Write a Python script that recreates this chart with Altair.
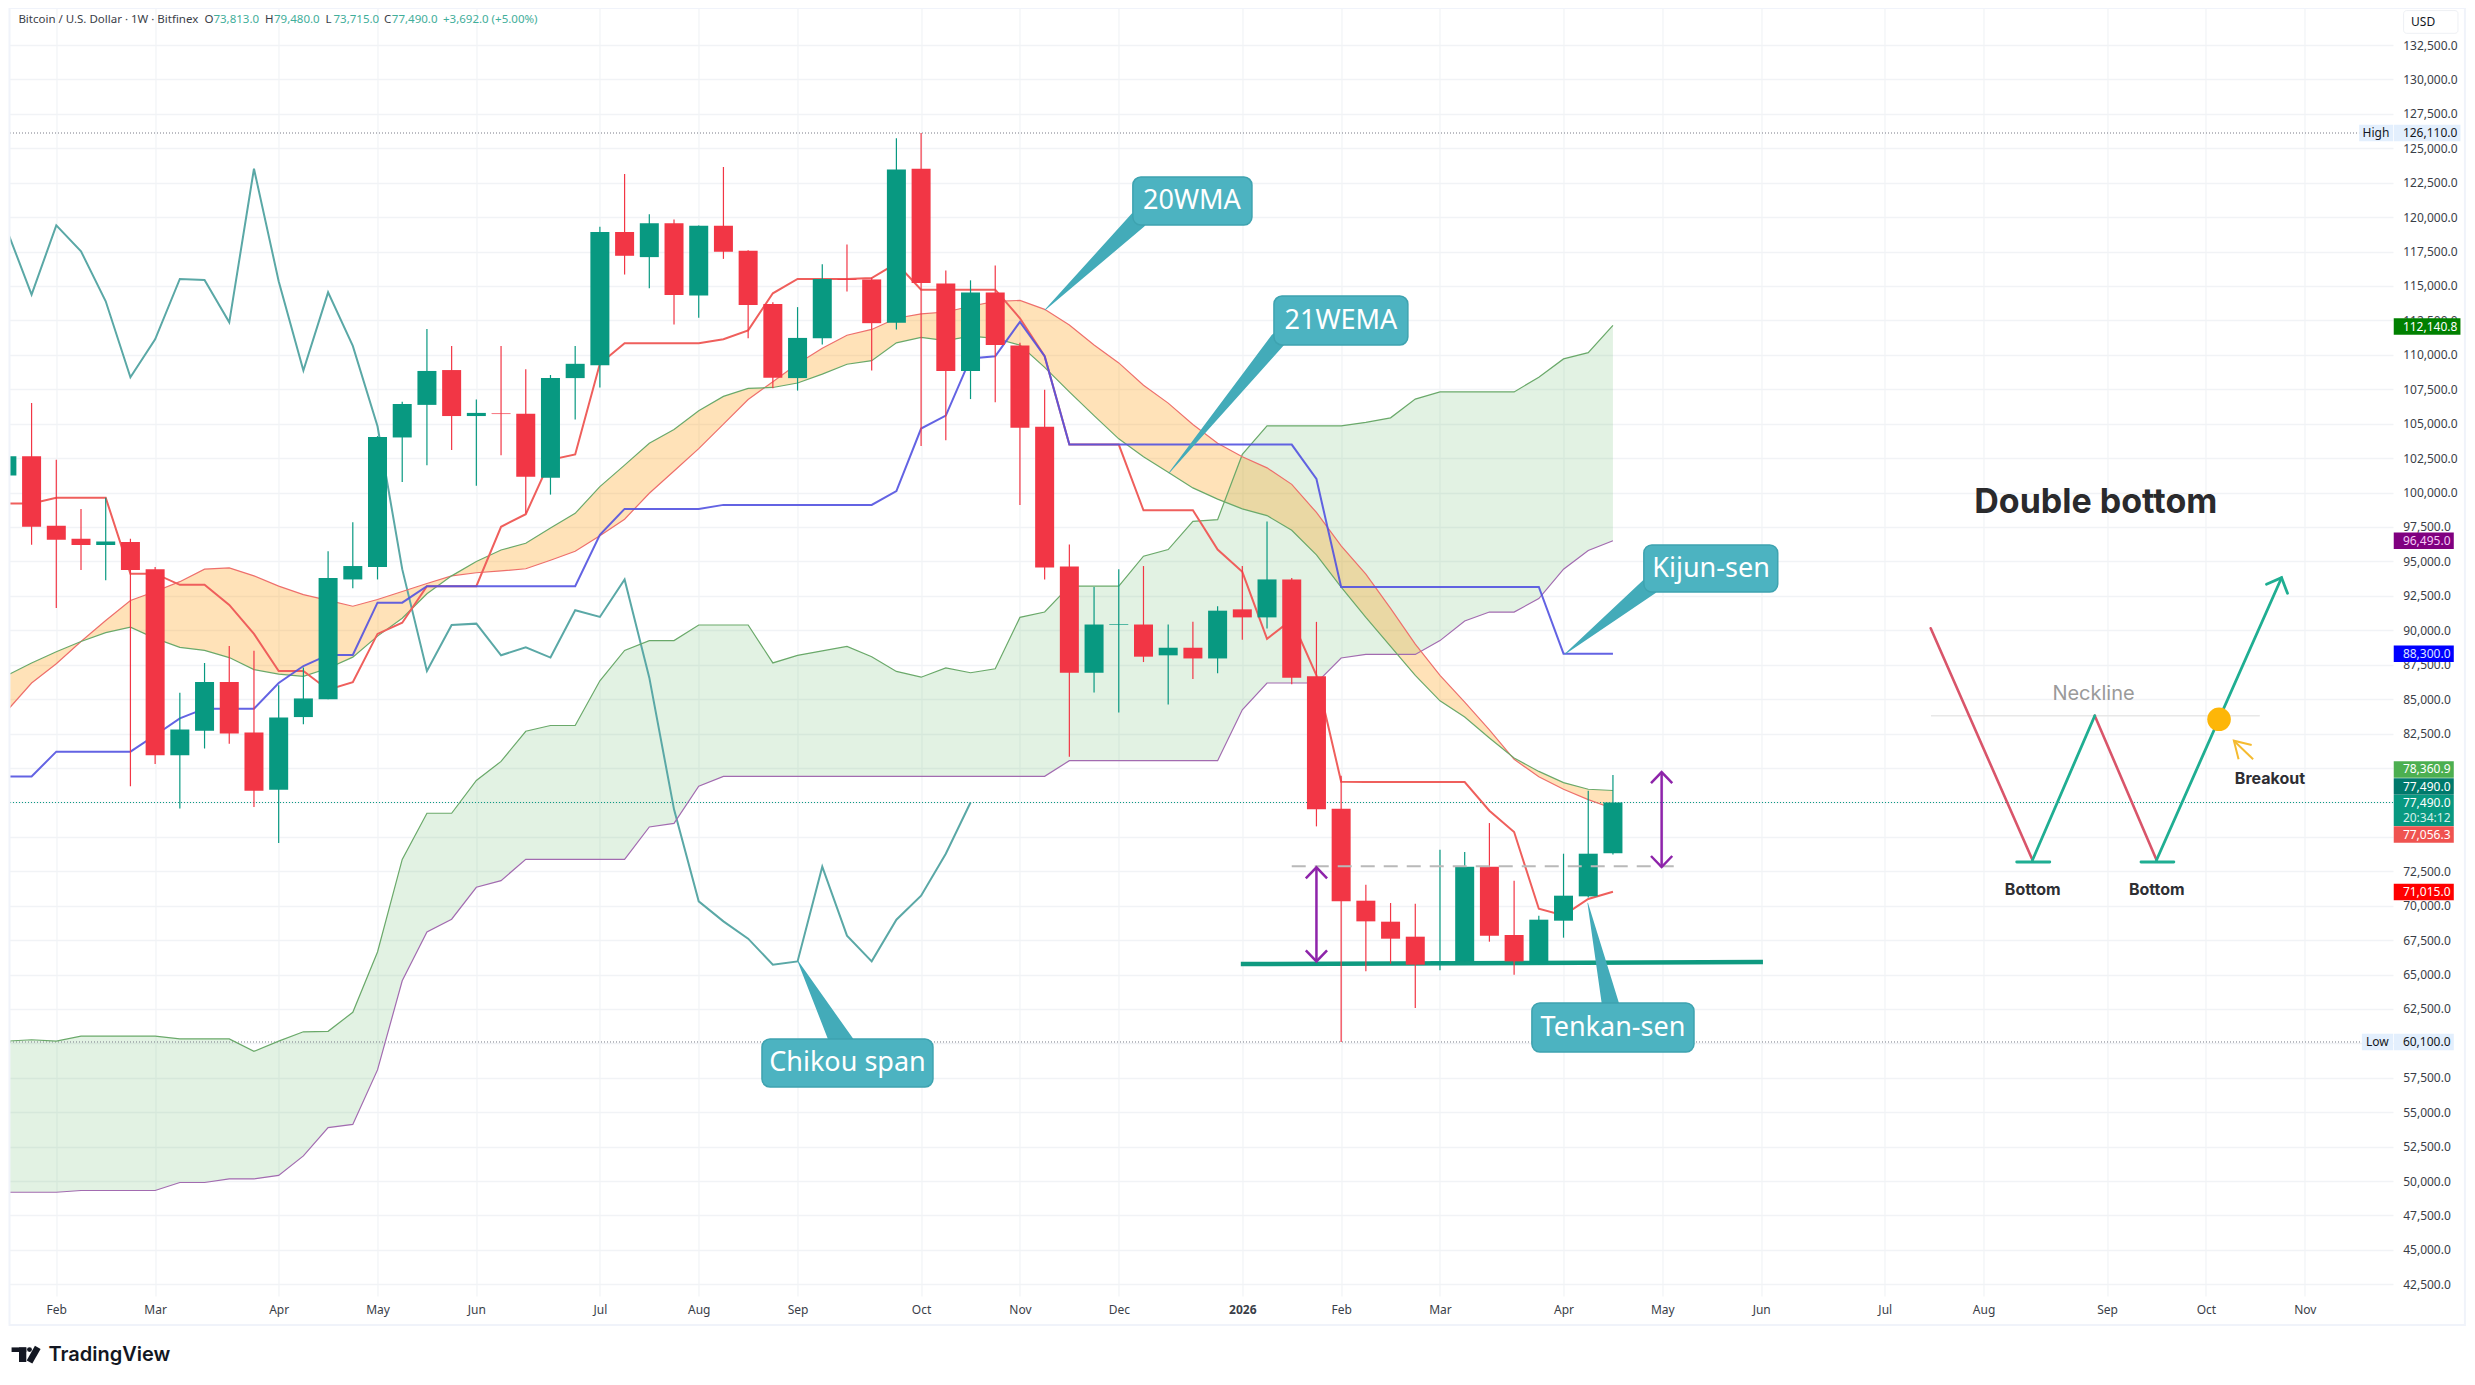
import altair as alt
import pandas as pd

# ---------- candles, first week = -1 ----------
opens = [101243,102638,97580,96640,96186,96413,94436,80927,82697,86233,82569,78416,83695,84983,93690,94598,104000,106366,108895,105556,105750,105718,101082,108311,109252,118913,117097,119561,114309,119367,117551,113693,108311,111197,115509,115476,112331,123516,115184,108830,114536,110678,104778,94630,86914,90400,90416,88179,88730,87952,91517,90934,93690,86655,77040,70361,68836,67747,65800,65956,72829,67868,65787,68909,70675,73813]
highs = [103000,106496,102378,98812,99623,96640,94598,85455,87627,88859,88503,86006,87303,95732,97840,104100,106593,111878,110646,106755,110646,108960,108538,110646,119302,123127,120210,119821,119400,123646,117600,113823,113466,116579,118005,115600,125721,126110,116125,115411,116481,110873,107468,96219,93139,94436,94663,90416,90610,91745,94663,97905,93800,90610,79436,71522,70191,70143,74063,73894,75999,71813,69272,73773,78347,79480]
lows = [101000,96218,91615,94371,93625,78674,80283,77064,81410,81764,77161,74553,83180,84983,93042,93690,100758,101990,103092,100498,102703,98488,99850,105296,107631,115833,114828,112202,112688,116968,111197,107566,107404,110743,114601,108863,111845,103384,103805,106788,106561,99104,93690,80819,85488,84029,87692,84612,86461,86882,89313,90124,86071,75757,60100,65230,65787,62568,65303,65900,67384,64988,65700,67675,70600,73715]
closes = [102638,97516,96575,96186,96446,94371,80927,82794,86233,82504,78352,83663,85047,93787,94663,104032,106431,108830,105556,105783,105700,101147,108311,109349,118913,117194,119561,114342,119367,117486,113628,108344,111229,115509,115450,112299,123452,115217,108830,114536,110711,104713,94565,86914,90416,90448,88081,88730,87952,91421,90934,93690,86558,76992,70312,68860,67602,65714,65950,72829,67820,65956,68981,70724,73773,77490]

# ---------- indicator lines, first week = -1 ----------
tenkan = [99201,99201,99623,99623,99623,94111,94111,93301,93301,91842,89735,87044,87044,85682,86233,89735,90545,93204,93204,93204,97516,98423,102379,102768,109349,110840,110840,110840,110840,111132,111780,114471,115509,115509,115509,115573,116643,114731,114731,114731,114731,112656,109900,103481,103481,103481,98715,98715,98715,95862,94241,89378,90772,86720,79004,78976,78976,78976,78976,78976,76895,75346,69780,69296,70482,71015]
kijun = [79382,79382,81184,81184,81184,81184,82375,83599,84307,84307,84307,86169,87401,88211,88211,92004,92004,93204,93204,93204,93204,93204,93204,93204,96932,98812,98812,98812,98812,99104,99104,99104,99104,99104,99104,99104,100109,104648,105588,109738,109900,112396,109900,103481,103481,103481,103481,103481,103481,103481,103481,103481,103481,100984,93139,93139,93139,93139,93139,93139,93139,93139,93139,88300,88300,88300]
chikou = [119075,114374,119399,117519,113888,108376,111132,115509,115444,112364,123516,115347,108863,114536,110646,104810,94436,87044,90383,90480,88179,88762,88016,91453,90967,93690,86558,76992,70312,68860,67602,65714,65950,72829,67820,65956,68981,70724,73773,77490]
span_a = [60164,60261,60164,60518,60518,60518,60518,60325,60325,60325,59424,60164,60840,60873,62257,66635,73362,76710,76710,79092,80476,82665,83084,83084,86331,88535,89248,89248,90383,90383,90383,87627,88179,88503,88827,88081,87011,86590,87271,86914,87206,90934,91323,93204,93204,93204,95376,95862,97905,98034,102768,104842,104842,104842,104842,105102,105426,106788,107306,107306,107306,107306,108376,109705,110159,112140.8]
span_b = [49188,49188,49188,49316,49316,49316,49316,49896,49896,50153,50153,50411,51827,53887,54113,58072,64542,68083,69017,71334,71817,73362,73362,73362,73362,73362,75712,75970,78674,79382,79382,79382,79382,79382,79382,79382,79382,79382,79382,79382,79382,79382,79393,80528,80528,80528,80528,80528,80528,80528,84224,86169,86169,86169,87984,88243,88243,88243,89248,90675,91323,91323,92296,94436,95797,96495]
wma20 = [84146,86169,87563,89184,90707,92166,92815,93528,94436,94533,93949,93204,92588,92166,91745,92231,92815,93398,93949,94176,94306,94468,95084,95732,96867,98067,99947,101568,103189,104972,106755,108052,109349,110484,111424,111845,112656,112980,113110,113531,113888,113952,113304,112169,110710,109414,107793,106496,104940,103578,102605,101795,100595,98553,96121,94079,91583,88989,86720,84774,82764,80625,79360,78453,77700,77056.3]
ema21 = [86720,87627,88438,89184,89832,90221,89411,88762,88535,88016,87141,86817,86655,87239,88049,89573,90869,92653,93949,94987,95830,96316,97418,98488,100433,101990,103578,104583,105945,106982,107566,107631,107955,108603,109316,109576,110873,111262,111035,111359,111197,110710,109089,107306,105588,103902,102605,101471,100336,99526,98812,98326,97256,95473,93139,90934,88827,86720,84872,83705,82181,80722,79749,78939,78453,78360.9]

# ---------- axes ----------
price_ticks = list(range(42500, 135000, 2500))
covered_ticks = [60000, 75000, 77500, 80000]
month_weeks = [1, 5, 10, 14, 18, 23, 27, 31, 36, 40, 44, 49, 53, 57, 62, 66, 70, 75, 79, 84, 88, 92]
month_names = ["Feb", "Mar", "Apr", "May", "Jun", "Jul", "Aug", "Sep", "Oct", "Nov", "Dec", "2026", "Feb", "Mar", "Apr", "May", "Jun", "Jul", "Aug", "Sep", "Oct", "Nov"]

# ---------- scale limits ----------
week_domain = [-0.894, 95.57]
price_domain = [41653, 135188]

FONT = "Noto Sans"
UP, DOWN = "#089981", "#f23645"
GRID = "#f1f3f6"
TAG = 12

AX = alt.Axis(
    orient="bottom", values=month_weeks, title=None, grid=True, gridColor=GRID, gridWidth=1.2, domain=False, ticks=False,
    labelExpr="[" + ",".join(f"'{m}'" for m in month_names) + "][indexof([" + ",".join(map(str, month_weeks)) + "], datum.value)]",
    labelFont=FONT, labelFontSize=12, labelColor="#3a3e48", labelPadding=8, labelOverlap=False,
    labelFontWeight={"condition": {"test": "datum.value == 49", "value": 700}, "value": 400},
)
AY = alt.Axis(
    orient="right", values=price_ticks, title=None, grid=True, gridColor=GRID, gridWidth=1.5, domain=False, ticks=False,
    labelExpr="indexof([" + ",".join(map(str, covered_ticks)) + "], datum.value) >= 0 ? '' : format(datum.value, ',.1f')",
    labelFont=FONT, labelFontSize=TAG, labelColor="#3a3e48", labelPadding=9.7, labelOverlap=False,
)
XS = alt.Scale(domain=week_domain, nice=False, zero=False, padding=0)
YS = alt.Scale(domain=price_domain, nice=False, zero=False)


def X():
    return alt.X("w:Q", scale=XS, axis=AX)


def Y(field="p:Q"):
    return alt.Y(field, scale=YS, axis=AY)


def series(values):
    return pd.DataFrame({"w": range(-1, len(values) - 1), "p": values})


def line(values, color, width, opacity=1.0):
    return alt.Chart(series(values)).mark_line(color=color, strokeWidth=width, opacity=opacity, clip=True).encode(X(), Y())


def band(upper, lower, color, opacity):
    df = pd.DataFrame({"w": range(-1, len(upper) - 1), "p": upper, "p2": lower})
    return alt.Chart(df).mark_area(color=color, opacity=opacity, clip=True).encode(X(), Y(), y2="p2:Q")


def path(points, color, width, dash=None, cap="butt", opacity=1.0):
    rows = [{"w": a, "p": b, "g": g, "o": i} for g, pts in enumerate(points) for i, (a, b) in enumerate(pts)]
    kw = {"strokeDash": dash} if dash else {}
    return alt.Chart(pd.DataFrame(rows)).mark_line(color=color, strokeWidth=width, strokeCap=cap, opacity=opacity, **kw).encode(
        X(), Y(), detail="g:N", order="o:Q")


def label(text, w, p, size, color, weight=400, align="center", font=FONT):
    return alt.Chart(pd.DataFrame({"w": [w], "p": [p], "t": [text]})).mark_text(
        font=font, fontSize=size, color=color, fontWeight=weight, align=align, baseline="middle"
    ).encode(X(), Y(), text="t:N")


def box(w1, w2, p1, p2, color, **kw):
    return alt.Chart(pd.DataFrame({"w": [w1], "w2": [w2], "p": [p1], "p2": [p2]})).mark_rect(color=color, **kw).encode(
        X(), Y(), x2="w2:Q", y2="p2:Q")


def callout(text, w1, w2, p1, p2, tw, tp, tip, base, base_size, size=27):
    rows = [{"w": tip[0], "p": tip[1], "s": 0.6, "o": 0}, {"w": base[0], "p": base[1], "s": base_size, "o": 1}]
    pointer = alt.Chart(pd.DataFrame(rows)).mark_trail(color="#43abb9").encode(
        X(), Y(), size=alt.Size("s:Q", scale=None, legend=None), order="o:Q")
    rect = box(w1, w2, p1, p2, "#4cb3c1", cornerRadius=8, stroke="#3ea3b0", strokeWidth=1.5)
    return [pointer, rect, label(text, tw, tp, size, "#ffffff")]


# ---------- candles ----------
cdf = pd.DataFrame({"w": range(-1, len(opens) - 1), "o": opens, "h": highs, "l": lows, "c": closes})
cdf["up"] = cdf.c >= cdf.o
color = alt.Color("up:N", scale=alt.Scale(domain=[True, False], range=[UP, DOWN]), legend=None)
wicks = alt.Chart(cdf).mark_rule(strokeWidth=1.2, clip=True).encode(X(), Y("h:Q"), y2="l:Q", color=color)
bodies = alt.Chart(cdf).mark_bar(size=19, clip=True).encode(X(), Y("o:Q"), y2="c:Q", color=color)


def hline(price, col):
    return alt.Chart(pd.DataFrame({"p": [price]})).mark_rule(color=col, strokeWidth=1, strokeDash=[1, 2]).encode(Y())


layers = [
    band(span_a, span_b, "#4caf50", 0.16),
    band(wma20, ema21, "#ff9800", 0.28),
    hline(126110, "#787b86"), hline(60100, "#787b86"), hline(77490, UP),
    line(chikou, "#5aa8a6", 2),
    line(span_a, "#6aa96a", 1.2),
    line(span_b, "#a26bb0", 1.2),
    line(wma20, "#ee6f6c", 1.2),
    line(ema21, "#6aa96a", 1.2),
    line(tenkan, "#ef5f5c", 2),
    line(kijun, "#5252e0", 2, 0.9),
    path([[(48.94, 65761), (70.07, 65906)]], "#0f9a80", 4.5),
    wicks, bodies,
    path([[(51.0, 72853), (66.55, 72853)]], "#b9b9b9", 2, dash=[14, 9]),
    path([
        [(52, 72781), (52, 65956)],
        [(51.57, 71980), (52, 72781), (52.43, 71980)],
        [(51.57, 66757), (52, 65956), (52.43, 66757)],
        [(65.97, 79702), (65.97, 72805)],
        [(65.54, 78900), (65.97, 79702), (66.4, 78900)],
        [(65.54, 73606), (65.97, 72805), (66.4, 73606)],
    ], "#8e24aa", 2.5),
]

# ---------- callouts ----------
layers += callout("20WMA", 44.57, 49.39, 122915, 119429, 46.96, 121172, (41.01, 113256), (44.78, 119792), 18)
layers += callout("21WEMA", 50.28, 55.70, 114273, 110715, 52.99, 112494, (46.03, 101419), (50.44, 111078), 16)
layers += callout("Kijun-sen", 65.25, 70.67, 96191, 92777, 67.97, 94484, (62.06, 88275), (65.5, 93213), 18)
layers += callout("Chikou span", 29.56, 36.48, 60316, 56831, 33.02, 58573, (31.01, 65981), (32.84, 59881), 24)
layers += callout("Tenkan-sen", 60.72, 67.28, 62931, 59372, 64.0, 61151, (62.98, 70193), (63.95, 62422), 18)

# ---------- double-bottom sketch ----------
layers += [
    path([[(76.87, 83794), (90.18, 83794)]], "#e8e8e8", 1.5),
    path([[(76.86, 90141), (80.98, 73315)], [(83.50, 83794), (86.00, 73315)]], "#d9556a", 2.6, cap="round"),
    path([[(80.98, 73315), (83.50, 83794)], [(86.00, 73315), (91.06, 93816)], [(90.45, 93337), (91.06, 93816), (91.30, 92683)],
          [(80.34, 73170), (81.68, 73170)], [(85.37, 73170), (86.70, 73170)]], "#1fae92", 2.8, cap="round"),
    alt.Chart(pd.DataFrame({"w": [88.53], "p": [83533]})).mark_point(filled=True, size=556, color="#fdb608", opacity=1).encode(X(), Y()),
    path([[(89.13, 81979), (89.91, 80628)], [(89.85, 81667), (89.13, 81979), (89.32, 80628)]], "#f5bb30", 2),
    label("Double bottom", 83.54, 99235, 34, "#2a2a2c", 700, font="Inter"),
    label("Neckline", 83.45, 85350, 20, "#9a9a9a", 400, font="Inter"),
    label("Breakout", 90.59, 79198, 16, "#2e2e33", 700, font="Inter"),
    label("Bottom", 80.99, 71137, 16, "#2e2e33", 700, font="Inter"),
    label("Bottom", 86.01, 71137, 16, "#2e2e33", 700, font="Inter"),
]

# ---------- price tags on the right ----------
W_L, W_R, W_R2 = 95.6, 98.03, 98.30
tags = [
    ("126,110.0", 126110, W_R2, "#e3effd", "#131722"),
    ("112,140.8", 112058, W_R2, "#008000", "#ffffff"),
    ("96,495.0", 96495, W_R, "#800080", "#f6c8f6"),
    ("88,300.0", 88300, W_R, "#0000ff", "#dfe3ff"),
    ("78,360.9", 79888, W_R, "#4caf50", "#ffffff"),
    ("77,490.0", 78653, W_R, "#00796b", "#ffffff"),
    ("77,056.3", 75167, W_R, "#ef5350", "#ffffff"),
    ("71,015.0", 70992, W_R, "#ff0000", "#ffffff"),
    ("60,100.0", 60100, W_R, "#e3effd", "#131722"),
]
for text, price, right, fill, ink in tags:
    layers.append(box(W_L, right, price + 600, price - 600, fill))
    layers.append(label(text, 95.97, price, TAG, ink, align="left"))
layers += [
    box(W_L, W_R, 78035, 75785, UP),
    label("77,490.0", 95.97, 77455, TAG, "#ffffff", align="left"),
    label("20:34:12", 95.97, 76366, TAG, "#d5f0ea", align="left"),
    box(94.2, 95.57, 126710, 125510, "#e3effd"),
    label("High", 94.88, 126110, TAG, "#131722"),
    box(94.31, 95.57, 60700, 59500, "#e3effd"),
    label("Low", 94.94, 60100, TAG, "#131722"),
    box(96.0, 98.2, 135000, 133350, "#ffffff", cornerRadius=3, stroke="#eef0f4"),
    label("USD", 96.3, 134200, TAG, "#131722", align="left"),
]

# ---------- header ----------
HDR = 134316
HDR_GREEN = "#3fae9a"
layers += [
    label("Bitcoin / U.S. Dollar · 1W · Bitfinex", -0.534, HDR, 11.5, "#3a3e48", align="left"),
    label("O", 7.0, HDR, 11.5, "#3a3e48", align="left"), label("73,813.0", 7.36, HDR, 11.5, HDR_GREEN, align="left"),
    label("H", 9.45, HDR, 11.5, "#3a3e48", align="left"), label("79,480.0", 9.81, HDR, 11.5, HDR_GREEN, align="left"),
    label("L", 11.9, HDR, 11.5, "#3a3e48", align="left"), label("73,715.0", 12.22, HDR, 11.5, HDR_GREEN, align="left"),
    label("C", 14.26, HDR, 11.5, "#3a3e48", align="left"), label("77,490.0", 14.58, HDR, 11.5, HDR_GREEN, align="left"),
    label("+3,692.0 (+5.00%)", 16.65, HDR, 11.5, HDR_GREEN, align="left"),
]

# ---------- outer frame and brand ----------
layers += [
    box(-0.894, 98.48, 135188, 39548, "#ffffff", fillOpacity=0, stroke="#f0f3fa", strokeWidth=2),
    box(-0.81, -0.214, 37920, 37586, "#131722"),
    box(-0.51, -0.214, 37920, 36860, "#131722"),
    alt.Chart(pd.DataFrame({"w": [-0.085], "p": [37760]})).mark_point(filled=True, size=24, color="#131722", opacity=1).encode(X(), Y()),
    path([[(0.25, 37920), (-0.085, 36860)]], "#131722", 6.5),
    label("TradingView", 0.68, 37368, 20, "#131722", 600, align="left", font="Inter"),
]

chart = alt.layer(*layers).properties(
    width=2383.5, height=1288,
    autosize=alt.AutoSizeParams(type="none"),
    padding={"left": 1.5, "top": 0, "right": 74, "bottom": 81},
).configure_view(stroke=None).resolve_scale(color="independent")

chart.save("out.html", embed_options={"renderer": "svg", "actions": False})
